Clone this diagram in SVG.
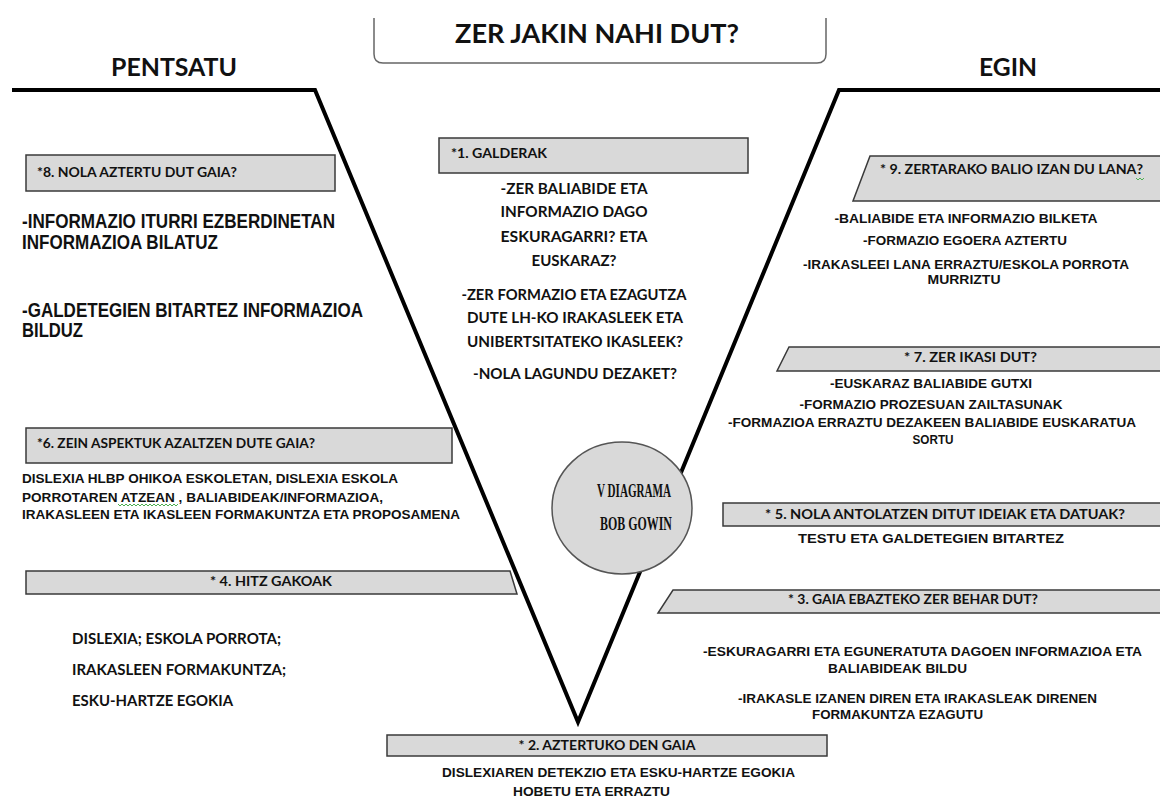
<svg xmlns="http://www.w3.org/2000/svg" width="1160" height="796" viewBox="0 0 1160 796">
<style>
.bg{fill:#ffffff}
.box{fill:#d9d9d9;stroke:#3a3a3a;stroke-width:1.5}
.vline{fill:none;stroke:#000;stroke-width:4;stroke-linejoin:miter}
.cal{font-family:"Lato","Carlito","Liberation Sans",sans-serif;font-weight:bold;fill:#111}
.ari{font-family:"Liberation Sans",Arial,sans-serif;font-weight:bold;fill:#111}
.tnr{font-family:"Liberation Serif","Times New Roman",serif;font-weight:bold;fill:#111}
.sq{fill:none;stroke:#4caf50;stroke-width:1}
</style>
<rect class="bg" x="0" y="0" width="1160" height="796"/>

<g id="connectors">
  <polyline class="vline" points="12,90 315,90 578,722 839,90 1160,90"/>
</g>

<g id="title">
  <path d="M374 18 V54 Q374 63 383 63 H817 Q826 63 826 54 V18" fill="#fff" stroke="#666" stroke-width="1.5"/>
  <text class="cal" x="597" y="43" font-size="27" text-anchor="middle" textLength="284" lengthAdjust="spacingAndGlyphs">ZER JAKIN NAHI DUT?</text>
</g>

<g id="pentsatu">
  <text class="cal" x="174" y="76" font-size="24" text-anchor="middle" textLength="126" lengthAdjust="spacingAndGlyphs">PENTSATU</text>
</g>
<g id="egin">
  <text class="cal" x="1008" y="76" font-size="24" text-anchor="middle" textLength="58" lengthAdjust="spacingAndGlyphs">EGIN</text>
</g>

<g id="node8">
  <rect class="box" x="26" y="155" width="309" height="36" stroke-width="2"/>
  <text class="cal" x="37" y="177" font-size="13" textLength="200" lengthAdjust="spacingAndGlyphs">*8. NOLA AZTERTU DUT GAIA?</text>
  <text class="ari" x="22" y="228" font-size="19.5" textLength="313" lengthAdjust="spacingAndGlyphs">-INFORMAZIO ITURRI EZBERDINETAN</text>
  <text class="ari" x="22" y="249" font-size="19.5" textLength="196" lengthAdjust="spacingAndGlyphs">INFORMAZIOA BILATUZ</text>
  <text class="ari" x="22" y="317" font-size="19.5" textLength="341" lengthAdjust="spacingAndGlyphs">-GALDETEGIEN BITARTEZ INFORMAZIOA</text>
  <text class="ari" x="22" y="337" font-size="19.5" textLength="61" lengthAdjust="spacingAndGlyphs">BILDUZ</text>
</g>

<g id="node1">
  <rect class="box" x="439" y="138" width="309" height="35"/>
  <text class="cal" x="451" y="158" font-size="13" textLength="96" lengthAdjust="spacingAndGlyphs">*1. GALDERAK</text>
  <text class="cal" x="574" y="194" font-size="15" text-anchor="middle" textLength="147" lengthAdjust="spacingAndGlyphs">-ZER BALIABIDE ETA</text>
  <text class="cal" x="574" y="217" font-size="15" text-anchor="middle" textLength="147" lengthAdjust="spacingAndGlyphs">INFORMAZIO DAGO</text>
  <text class="cal" x="574" y="242" font-size="15" text-anchor="middle" textLength="147" lengthAdjust="spacingAndGlyphs">ESKURAGARRI? ETA</text>
  <text class="cal" x="574" y="266" font-size="15" text-anchor="middle" textLength="85" lengthAdjust="spacingAndGlyphs">EUSKARAZ?</text>
  <text class="cal" x="574" y="300" font-size="15" text-anchor="middle" textLength="225" lengthAdjust="spacingAndGlyphs">-ZER FORMAZIO ETA EZAGUTZA</text>
  <text class="cal" x="575" y="323" font-size="15" text-anchor="middle" textLength="216" lengthAdjust="spacingAndGlyphs">DUTE LH-KO IRAKASLEEK ETA</text>
  <text class="cal" x="575" y="347" font-size="15" text-anchor="middle" textLength="216" lengthAdjust="spacingAndGlyphs">UNIBERTSITATEKO IKASLEEK?</text>
  <text class="cal" x="575" y="379" font-size="15" text-anchor="middle" textLength="204" lengthAdjust="spacingAndGlyphs">-NOLA LAGUNDU DEZAKET?</text>
</g>

<g id="node9">
  <polygon class="box" points="870,156 1165,156 1165,201 853,201"/>
  <text class="cal" x="880" y="174" font-size="13" textLength="263" lengthAdjust="spacingAndGlyphs">* 9. ZERTARAKO BALIO IZAN DU LANA?</text>
  <path class="sq" d="M1136 178 l2 2 l2 -2 l2 2 l2 -2"/>
  <text class="ari" x="966" y="223" font-size="12.5" text-anchor="middle" textLength="263" lengthAdjust="spacingAndGlyphs">-BALIABIDE ETA INFORMAZIO BILKETA</text>
  <text class="ari" x="965" y="245" font-size="12.5" text-anchor="middle" textLength="204" lengthAdjust="spacingAndGlyphs">-FORMAZIO EGOERA AZTERTU</text>
  <text class="ari" x="966" y="269" font-size="12.5" text-anchor="middle" textLength="326" lengthAdjust="spacingAndGlyphs">-IRAKASLEEI LANA ERRAZTU/ESKOLA PORROTA</text>
  <text class="ari" x="964" y="284" font-size="12.5" text-anchor="middle" textLength="73" lengthAdjust="spacingAndGlyphs">MURRIZTU</text>
</g>

<g id="node7">
  <polygon class="box" points="789,347 1165,347 1165,371 777,371"/>
  <text class="cal" x="904" y="362" font-size="13" textLength="133" lengthAdjust="spacingAndGlyphs">* 7. ZER IKASI DUT?</text>
  <text class="ari" x="931" y="388" font-size="12.5" text-anchor="middle" textLength="202" lengthAdjust="spacingAndGlyphs">-EUSKARAZ BALIABIDE GUTXI</text>
  <text class="ari" x="931" y="409" font-size="12.5" text-anchor="middle" textLength="263" lengthAdjust="spacingAndGlyphs">-FORMAZIO PROZESUAN ZAILTASUNAK</text>
  <text class="ari" x="932" y="427" font-size="12.5" text-anchor="middle" textLength="408" lengthAdjust="spacingAndGlyphs">-FORMAZIOA ERRAZTU DEZAKEEN BALIABIDE EUSKARATUA</text>
  <text class="ari" x="933" y="444" font-size="12.5" text-anchor="middle" textLength="41" lengthAdjust="spacingAndGlyphs">SORTU</text>
</g>

<g id="node6">
  <rect class="box" x="26" y="428" width="426" height="35"/>
  <text class="cal" x="37" y="448" font-size="13" textLength="278" lengthAdjust="spacingAndGlyphs">*6. ZEIN ASPEKTUK AZALTZEN DUTE GAIA?</text>
  <text class="ari" x="22" y="483" font-size="12.5" textLength="376" lengthAdjust="spacingAndGlyphs">DISLEXIA HLBP OHIKOA ESKOLETAN, DISLEXIA ESKOLA</text>
  <text class="ari" x="22" y="502" font-size="12.5" textLength="361" lengthAdjust="spacingAndGlyphs">PORROTAREN ATZEAN , BALIABIDEAK/INFORMAZIOA,</text>
  <path class="sq" d="M118 504 l2 2 l2 -2 l2 2 l2 -2 l2 2 l2 -2 l2 2 l2 -2 l2 2 l2 -2 l2 2 l2 -2 l2 2 l2 -2 l2 2 l2 -2 l2 2 l2 -2 l2 2 l2 -2 l2 2 l2 -2 l2 2 l2 -2 l2 2 l2 -2 l2 2 l2 -2 l2 2 l2 -2"/>
  <text class="ari" x="22" y="519" font-size="12.5" textLength="438" lengthAdjust="spacingAndGlyphs">IRAKASLEEN ETA IKASLEEN FORMAKUNTZA ETA PROPOSAMENA</text>
</g>

<g id="node5">
  <rect class="box" x="723" y="503" width="442" height="23"/>
  <text class="cal" x="765" y="519" font-size="13.5" textLength="360" lengthAdjust="spacingAndGlyphs">* 5. NOLA ANTOLATZEN DITUT IDEIAK ETA DATUAK?</text>
  <text class="ari" x="798" y="543" font-size="12.5" textLength="266" lengthAdjust="spacingAndGlyphs">TESTU ETA GALDETEGIEN BITARTEZ</text>
</g>

<g id="node4">
  <polygon class="box" points="26,571 510,571 517,594 26,594"/>
  <text class="cal" x="271" y="586" font-size="13" text-anchor="middle" textLength="122" lengthAdjust="spacingAndGlyphs">* 4. HITZ GAKOAK</text>
  <text class="cal" x="72" y="644" font-size="15" textLength="209" lengthAdjust="spacingAndGlyphs">DISLEXIA; ESKOLA PORROTA;</text>
  <text class="cal" x="72" y="675" font-size="15" textLength="214" lengthAdjust="spacingAndGlyphs">IRAKASLEEN FORMAKUNTZA;</text>
  <text class="cal" x="72" y="706" font-size="15" textLength="161" lengthAdjust="spacingAndGlyphs">ESKU-HARTZE EGOKIA</text>
</g>

<g id="node3">
  <polygon class="box" points="673,590 1165,590 1165,613 658,613"/>
  <text class="cal" x="788" y="604" font-size="13" textLength="250" lengthAdjust="spacingAndGlyphs">* 3. GAIA EBAZTEKO ZER BEHAR DUT?</text>
  <text class="ari" x="703" y="656" font-size="12.5" textLength="439" lengthAdjust="spacingAndGlyphs">-ESKURAGARRI ETA EGUNERATUTA DAGOEN INFORMAZIOA ETA</text>
  <text class="ari" x="828" y="673" font-size="12.5" textLength="139" lengthAdjust="spacingAndGlyphs">BALIABIDEAK BILDU</text>
  <text class="ari" x="738" y="703" font-size="12.5" textLength="359" lengthAdjust="spacingAndGlyphs">-IRAKASLE IZANEN DIREN ETA IRAKASLEAK DIRENEN</text>
  <text class="ari" x="812" y="719" font-size="12.5" textLength="171" lengthAdjust="spacingAndGlyphs">FORMAKUNTZA EZAGUTU</text>
</g>

<g id="node2">
  <rect class="box" x="387" y="735" width="440" height="21"/>
  <text class="cal" x="607" y="750" font-size="13" text-anchor="middle" textLength="177" lengthAdjust="spacingAndGlyphs">* 2. AZTERTUKO DEN GAIA</text>
  <text class="ari" x="442" y="777" font-size="12.5" textLength="353" lengthAdjust="spacingAndGlyphs">DISLEXIAREN DETEKZIO ETA ESKU-HARTZE EGOKIA</text>
  <text class="ari" x="513" y="796" font-size="12.5" textLength="157" lengthAdjust="spacingAndGlyphs">HOBETU ETA ERRAZTU</text>
</g>

<g id="center">
  <ellipse cx="622" cy="508" rx="70" ry="66" fill="#d9d9d9" stroke="#555" stroke-width="1.5"/>
  <text class="tnr" x="634" y="497" font-size="18" text-anchor="middle" textLength="74" lengthAdjust="spacingAndGlyphs">V DIAGRAMA</text>
  <text class="tnr" x="636" y="530" font-size="18" text-anchor="middle" textLength="72" lengthAdjust="spacingAndGlyphs">BOB GOWIN</text>
</g>
</svg>
